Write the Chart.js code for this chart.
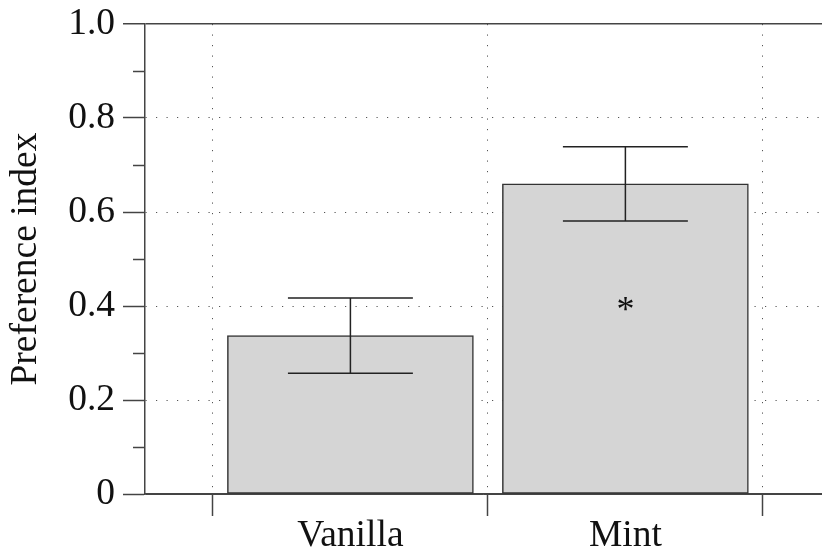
<!DOCTYPE html>
<html>
<head>
<meta charset="utf-8">
<script src="https://cdn.jsdelivr.net/npm/chart.js@4"></script>
<style>
  body { margin: 0; background: #fff; }
  #wrap { width: 822px; height: 554px; }
</style>
</head>
<body>
<div id="wrap"><canvas id="myChart"></canvas></div>
<script>
const categories = ['Vanilla', 'Mint'];
const xPositions = [1, 2];
const means = [0.337, 0.66];
const errLow = [0.257, 0.581];
const errHigh = [0.417, 0.739];
const sigMarks = ['', '*'];
const sigY = 0.40;
const xBoundaries = [0.5, 1.5, 2.5];
const yTickValues = [0, 0.1, 0.2, 0.3, 0.4, 0.5, 0.6, 0.7, 0.8, 0.9, 1.0];
const yTickLabels = ['0', '', '0.2', '', '0.4', '', '0.6', '', '0.8', '', '1.0'];

const axisColor = '#444';
const dotColor = '#555';
const textColor = '#111';
const dots = [1.2, 9.3];
const font = { family: '"Liberation Serif", "Times New Roman", serif', size: 37.5 };

const errorBars = {
  id: 'errorBars',
  afterDatasetsDraw(chart) {
    const ctx = chart.ctx;
    const xs = chart.scales.x, ys = chart.scales.y;
    const meta = chart.getDatasetMeta(0);
    ctx.save();
    ctx.strokeStyle = '#222';
    ctx.lineWidth = 1.5;
    means.forEach((m, i) => {
      const x = xs.getPixelForValue(xPositions[i]);
      const half = meta.data[i].width * 0.254;
      const yl = ys.getPixelForValue(errLow[i]);
      const yh = ys.getPixelForValue(errHigh[i]);
      ctx.beginPath();
      ctx.moveTo(x, yl); ctx.lineTo(x, yh);
      ctx.moveTo(x - half, yl); ctx.lineTo(x + half, yl);
      ctx.moveTo(x - half, yh); ctx.lineTo(x + half, yh);
      ctx.stroke();
      if (sigMarks[i]) {
        ctx.fillStyle = textColor;
        ctx.font = '36px ' + font.family;
        ctx.textAlign = 'center';
        ctx.textBaseline = 'middle';
        ctx.fillText(sigMarks[i], x, ys.getPixelForValue(sigY) + 6);
      }
    });
    ctx.restore();
  }
};

new Chart('myChart', {
  type: 'bar',
  data: {
    datasets: [{
      data: xPositions.map((x, i) => ({ x: x, y: means[i] })),
      backgroundColor: '#d5d5d5',
      borderColor: '#333',
      borderWidth: 1.5,
      borderSkipped: false,
      barThickness: 246
    }]
  },
  options: {
    responsive: true,
    maintainAspectRatio: false,
    animation: false,
    layout: { padding: { top: 24, left: 0, right: 0, bottom: 0 } },
    plugins: {
      legend: { display: false },
      tooltip: { enabled: false }
    },
    scales: {
      x: {
        type: 'linear',
        offset: false,
        min: 0.253,
        max: 2.715,
        afterBuildTicks: (scale) => {
          scale.ticks = [...xBoundaries, ...xPositions].sort((a, b) => a - b).map(v => ({ value: v }));
        },
        afterFit: (scale) => {
          scale.height = 60;
          scale.paddingLeft = 0;
          scale.paddingRight = 0;
        },
        ticks: {
          autoSkip: false,
          maxRotation: 0,
          padding: -2,
          color: textColor,
          font: font,
          callback: (v) => {
            const i = xPositions.indexOf(v);
            return i >= 0 ? categories[i] : '';
          }
        },
        grid: {
          offset: false,
          color: (c) => xBoundaries.includes(c.tick && c.tick.value) ? dotColor : 'rgba(0,0,0,0)',
          tickColor: (c) => xBoundaries.includes(c.tick && c.tick.value) ? axisColor : 'rgba(0,0,0,0)',
          lineWidth: 1,
          tickWidth: 1.5,
          tickLength: 22,
          tickBorderDash: []
        },
        border: { display: true, color: axisColor, width: 1.5, dash: dots }
      },
      y: {
        min: 0,
        max: 1,
        afterBuildTicks: (scale) => {
          scale.ticks = yTickValues.map(v => ({ value: v }));
        },
        afterFit: (scale) => {
          scale.width = 145;
          scale.paddingTop = 0;
          scale.paddingBottom = 0;
        },
        title: {
          display: true,
          text: 'Preference index',
          color: textColor,
          font: font,
          padding: { top: 4, bottom: 0 }
        },
        ticks: {
          autoSkip: false,
          padding: 8,
          color: textColor,
          font: font,
          callback: (v, i) => yTickLabels[i]
        },
        grid: {
          color: (c) => {
            const i = c.index;
            if (yTickLabels[i] === '') return 'rgba(0,0,0,0)';
            if (i === 0 || i === yTickValues.length - 1) return axisColor;
            return dotColor;
          },
          lineWidth: (c) => (c.index === yTickValues.length - 1 ? 1.5 : 1),
          tickColor: axisColor,
          tickWidth: 1.5,
          tickLength: 22,
          tickBorderDash: (c) => (yTickLabels[c.index] === '' ? [0, 10, 20] : [])
        },
        border: {
          display: true,
          color: axisColor,
          width: 1.5,
          dash: (c) => (c.index === 0 || c.index === yTickValues.length - 1 ? [] : dots)
        }
      }
    }
  },
  plugins: [errorBars]
});
</script>
</body>
</html>
